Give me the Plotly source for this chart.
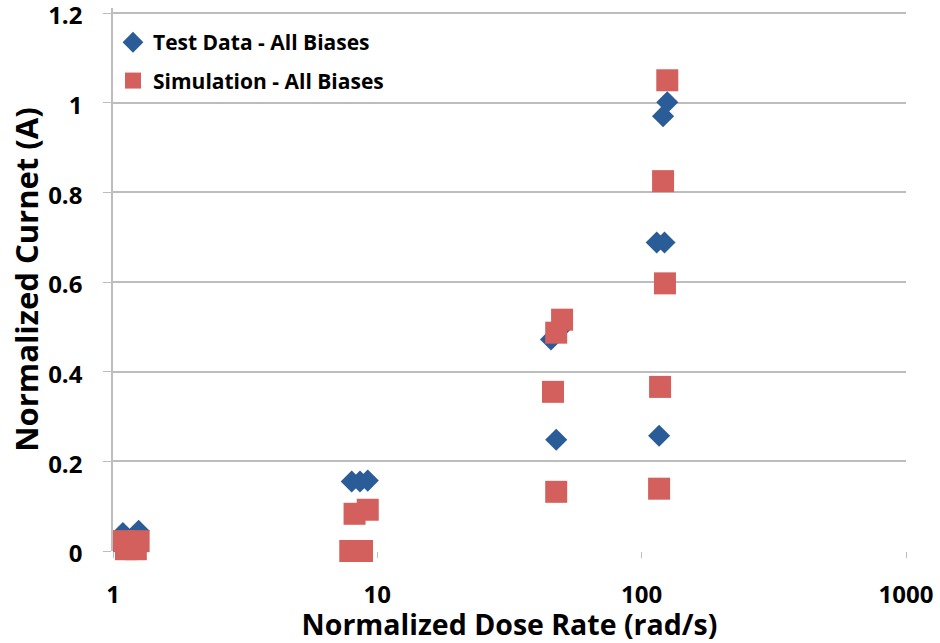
import plotly.graph_objects as go

# Measured dose-rate / current pairs (normalized)
test_rate = [1.09, 1.25, 8.0, 8.6, 9.2, 45.4, 49.0, 47.5, 114.0, 122.0, 125.0, 120.5, 116.4]
test_current = [0.040, 0.045, 0.155, 0.155, 0.157, 0.472, 0.494, 0.248, 0.688, 0.688, 1.001, 0.970, 0.257]

# Simulated dose-rate / current pairs (normalized)
sim_rate = [1.10, 1.25, 1.12, 1.22, 7.9, 8.75, 8.2, 9.2, 50.0, 47.5, 46.2, 47.5, 125.0, 120.5, 122.5, 117.4, 116.4]
sim_current = [0.022, 0.022, 0.004, 0.004, 0.0, 0.0, 0.083, 0.092, 0.516, 0.487, 0.355, 0.132, 1.050, 0.825, 0.597, 0.366, 0.139]

x_ticks = [1, 10, 100, 1000]
y_ticks = [0, 0.2, 0.4, 0.6, 0.8, 1.0, 1.2]
y_tick_text = ["0", "0.2", "0.4", "0.6", "0.8", "1", "1.2"]

BLUE = "#2A5C98"
RED = "#D3605C"
GRID = "#BDBDBD"
FONT = "Open Sans"

fig = go.Figure()
fig.add_trace(go.Scatter(
    x=test_rate, y=test_current, mode="markers", name="Test Data - All Biases",
    legendgroup="test",
    marker=dict(symbol="diamond", size=17, color=BLUE, line=dict(width=0)),
    cliponaxis=False,
))
fig.add_trace(go.Scatter(
    x=sim_rate, y=sim_current, mode="markers", name="Simulation - All Biases",
    legendgroup="sim",
    marker=dict(symbol="square", size=22, color=RED, line=dict(width=0)),
    cliponaxis=False,
))

# small headroom above 1.2 so its gridline is kept
fig.update_layout(
    width=940, height=643,
    margin=dict(l=113, r=34, t=8, b=92),
    paper_bgcolor="white", plot_bgcolor="white",
    font=dict(family=FONT, color="black"),
    showlegend=True,
    legend=dict(
        x=0.0, y=0.974, xanchor="left", yanchor="top",
        font=dict(family=FONT, size=21, color="black", weight="bold"),
        bgcolor="rgba(0,0,0,0)", traceorder="grouped", tracegroupgap=8,
    ),
    xaxis=dict(
        type="log", range=[0, 3], automargin=False,
        tickvals=x_ticks, ticktext=[str(v) for v in x_ticks],
        showgrid=False, zeroline=False,
        showline=False,
        ticks="outside", ticklen=6, tickcolor=GRID,
        tickfont=dict(family=FONT, size=24, weight="bold"),
        ticklabelstandoff=16, ticklabeloverflow="allow",
        title=dict(text="Normalized Dose Rate (rad/s)",
                   font=dict(family=FONT, size=28.5, weight="bold"), standoff=8),
    ),
    yaxis=dict(
        range=[0, 1.2112], automargin=False,
        tickvals=y_ticks, ticktext=y_tick_text,
        showgrid=True, gridcolor=GRID, gridwidth=1.5,
        zeroline=False,
        showline=True, linecolor=GRID, linewidth=1.5,
        ticks="outside", ticklen=8, tickcolor=GRID,
        tickfont=dict(family=FONT, size=24, weight="bold"),
        ticklabelstandoff=16, ticklabelshift=3, ticklabeloverflow="allow",
        title=dict(text="Normalized Curnet (A)",
                   font=dict(family=FONT, size=31, weight="bold"), standoff=0),
    ),
)

fig.write_html("out.html")
